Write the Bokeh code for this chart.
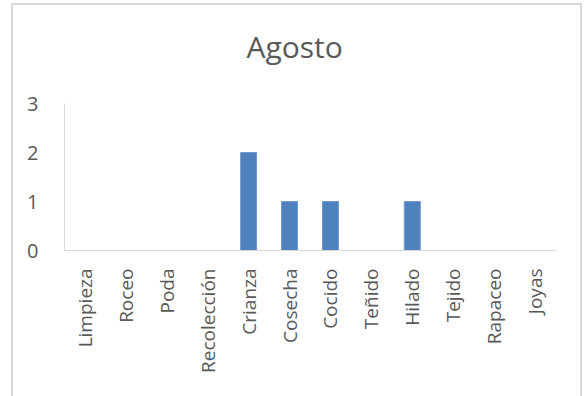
import math
from bokeh.plotting import figure
from bokeh.models import ColumnDataSource, FixedTicker, Range1d, Title
from bokeh.embed import file_html
from bokeh.resources import INLINE

categories = ["Limpieza", "Roceo", "Poda", "Recolección", "Crianza", "Cosecha",
              "Cocido", "Teñido", "Hilado", "Tejido", "Rapaceo", "Joyas"]
values = [0, 0, 0, 0, 2, 1, 1, 0, 1, 0, 0, 0]
y_ticks = [0, 1, 2, 3]
title_text = "Agosto"

FONT = "Open Sans"
GRAY = "#595959"

src = ColumnDataSource(dict(cat=categories, val=values))

p = figure(x_range=categories, y_range=Range1d(0, 3),
           width=571, height=400, output_backend="svg", toolbar_location=None,
           min_border_left=51, min_border_right=29, min_border_top=98, min_border_bottom=155)
p.margin = (3, 0, 0, 11)
p.styles = {"border": "2px solid #d9d9d9", "box-sizing": "border-box"}

p.vbar(x="cat", top="val", width=0.39, source=src,
       fill_color="#4F81BD", line_color="#6f98cc", line_width=1)

spacer = Title(text=" ", text_font_size="26px", standoff=0)
p.add_layout(spacer, "above")

p.title.text = title_text
p.title.align = "left"
p.title.text_font = FONT
p.title.text_font_size = "30px"
p.title.text_font_style = "normal"
p.title.text_color = GRAY
p.title.offset = 182

p.xgrid.grid_line_color = None
p.ygrid.grid_line_color = None
p.outline_line_color = None

p.yaxis.ticker = FixedTicker(ticks=y_ticks)
p.yaxis.axis_line_color = "#d9d9d9"
p.yaxis.major_tick_line_color = None
p.yaxis.minor_tick_line_color = None
p.yaxis.major_label_text_font = FONT
p.yaxis.major_label_text_font_size = "20px"
p.yaxis.major_label_text_color = GRAY
p.yaxis.major_label_standoff = 20

p.xaxis.axis_line_color = "#d9d9d9"
p.xaxis.major_tick_line_color = None
p.xaxis.minor_tick_line_color = None
p.xaxis.major_label_orientation = math.pi / 2
p.xaxis.major_label_text_font = FONT
p.xaxis.major_label_text_font_size = "19px"
p.xaxis.major_label_text_color = GRAY
p.xaxis.major_label_standoff = 12

open("out.html", "w").write(file_html(p, INLINE))
